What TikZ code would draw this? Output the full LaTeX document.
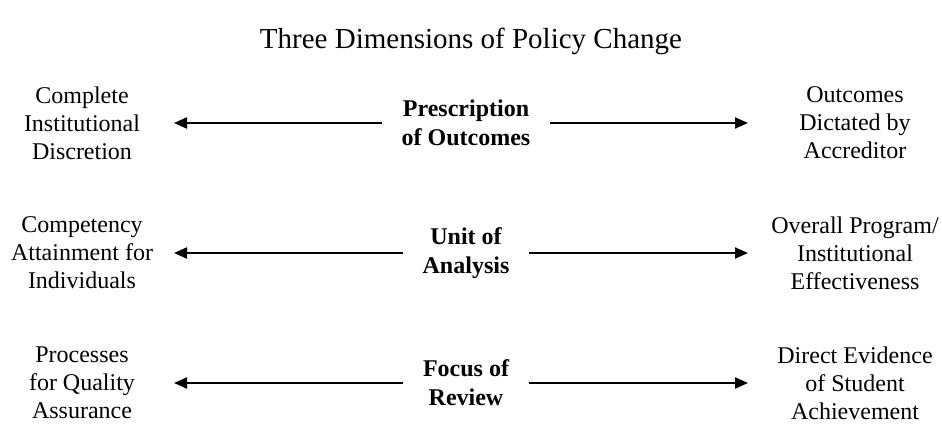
\documentclass[tikz,border=0pt]{standalone}
\usepackage{fontspec}
\setmainfont{Liberation Serif}
\usetikzlibrary{arrows.meta}

\begin{document}
\begin{tikzpicture}[
    x=0.5pt, y=-0.5pt,
    endtext/.style={align=center, inner sep=0pt, outer sep=0pt, font=\fontsize{12}{14}\selectfont},
    lefttext/.style={endtext, minimum width=92pt},
    righttext/.style={endtext, minimum width=107pt},
    dimension/.style={align=center, inner sep=0pt, outer xsep=10pt, outer ysep=0pt, font=\fontsize{12}{14.5}\selectfont\bfseries},
    arrow/.style={-{Triangle[length=6.5pt, width=5.5pt]}, line width=1pt}
]
\useasboundingbox (0,0) rectangle (942,423);

\node[font=\fontsize{14.5}{17}\selectfont] (title) at (471,41) {Three Dimensions of Policy Change};

% Prescription of outcomes
\node[dimension] (prescr) at (466,123) {Prescription\\of Outcomes};
\node[lefttext] (discretion) at (82,123) {Complete\\Institutional\\Discretion};
\node[righttext] (dictated) at (855,123) {Outcomes\\Dictated by\\Accreditor};

% Unit of analysis
\node[dimension] (unit) at (466,253) {Unit of\\Analysis};
\node[lefttext] (individuals) at (82,253) {Competency\\Attainment for\\Individuals};
\node[righttext] (effective) at (855,253) {Overall Program/\\Institutional\\Effectiveness};

% Focus of review
\node[dimension] (focus) at (466,383) {Focus of\\Review};
\node[lefttext] (processes) at (82,383) {Processes\\for Quality\\Assurance};
\node[righttext] (evidence) at (855,383) {Direct Evidence\\of Student\\Achievement};

\draw[arrow] (prescr) -- (discretion);
\draw[arrow] (prescr) -- (dictated);
\draw[arrow] (unit) -- (individuals);
\draw[arrow] (unit) -- (effective);
\draw[arrow] (focus) -- (processes);
\draw[arrow] (focus) -- (evidence);

\end{tikzpicture}
\end{document}
